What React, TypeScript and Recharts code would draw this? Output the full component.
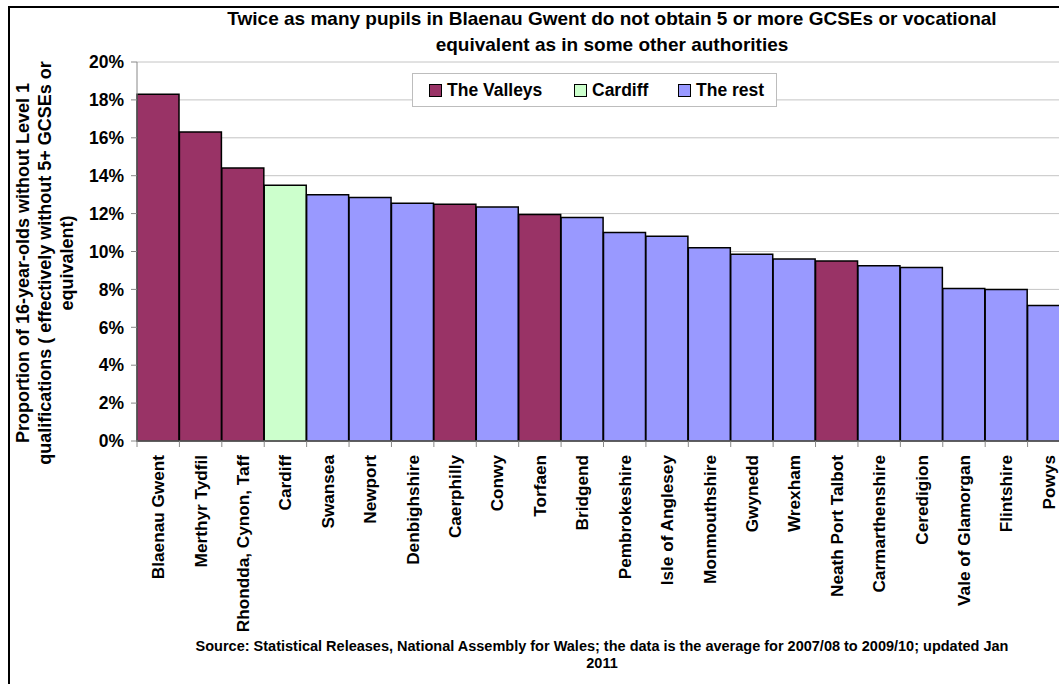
import { Bar, BarChart, CartesianGrid, Cell, XAxis, YAxis } from "recharts";

// Welsh local authorities, average 2007/08 to 2009/10
const authorities = [
    "Blaenau Gwent",
    "Merthyr Tydfil",
    "Rhondda, Cynon, Taff",
    "Cardiff",
    "Swansea",
    "Newport",
    "Denbighshire",
    "Caerphilly",
    "Conwy",
    "Torfaen",
    "Bridgend",
    "Pembrokeshire",
    "Isle of Anglesey",
    "Monmouthshire",
    "Gwynedd",
    "Wrexham",
    "Neath Port Talbot",
    "Carmarthenshire",
    "Ceredigion",
    "Vale of Glamorgan",
    "Flintshire",
    "Powys",
];

// % of 16-year-olds without Level 1 qualifications
const withoutLevel1 = [
    18.3, 16.3, 14.4, 13.5, 13.0, 12.85, 12.55, 12.5, 12.35, 11.95, 11.8, 11.0, 10.8, 10.2, 9.85, 9.6, 9.5,
    9.25, 9.15, 8.05, 8.0, 7.15,
];

const groups = [
    "valleys", "valleys", "valleys", "cardiff", "rest", "rest", "rest", "valleys", "rest", "valleys", "rest",
    "rest", "rest", "rest", "rest", "rest", "valleys", "rest", "rest", "rest", "rest", "rest",
];

const yTicks = [0, 2, 4, 6, 8, 10, 12, 14, 16, 18, 20];

const legendItems = [
    { key: "valleys", label: "The Valleys", left: 16 },
    { key: "cardiff", label: "Cardiff", left: 161 },
    { key: "rest", label: "The rest", left: 265 },
];

const COLORS: Record<string, string> = {
    valleys: "#993366",
    cardiff: "#CCFFCC",
    rest: "#9999FF",
};

const FONT = '"Liberation Sans", Arial, Helvetica, sans-serif';

const CHART_WIDTH = 1070;
const CHART_HEIGHT = 684;
const Y_AXIS_WIDTH = 137;
const BAND = (CHART_WIDTH - Y_AXIS_WIDTH) / authorities.length;

const data = authorities.map((name, i) => ({
    name,
    value: withoutLevel1[i],
    group: groups[i],
}));

const CategoryTick = (props: any) => {
    const { x, y, payload, index } = props;
    return (
        <g>
            <line x1={x - BAND / 2} x2={x - BAND / 2} y1={y} y2={y + 6} stroke="#888" />
            {index === authorities.length - 1 && (
                <line x1={x + BAND / 2} x2={x + BAND / 2} y1={y} y2={y + 6} stroke="#888" />
            )}
            <text
                transform={`translate(${x},${y + 14}) rotate(-90)`}
                textAnchor="end"
                dominantBaseline="central"
                fontFamily={FONT}
                fontWeight="bold"
                fontSize={17.2}
                fill="#000"
            >
                {payload.value}
            </text>
        </g>
    );
};

const App = () => {
    return (
        <div
            style={{
                position: "fixed",
                left: 0,
                top: 0,
                width: 1059,
                height: 684,
                overflow: "hidden",
                background: "#fff",
                fontFamily: FONT,
            }}
        >
            <div
                style={{
                    position: "absolute",
                    left: 8,
                    top: 6,
                    width: 1200,
                    height: 800,
                    borderLeft: "2px solid #000",
                    borderTop: "2px solid #000",
                }}
            />
            <div
                style={{
                    position: "absolute",
                    left: 612,
                    top: 6,
                    transform: "translateX(-50%)",
                    whiteSpace: "nowrap",
                    textAlign: "center",
                    fontSize: 19,
                    fontWeight: "bold",
                    lineHeight: "26px",
                    color: "#000",
                }}
            >
                Twice as many pupils in Blaenau Gwent do not obtain 5 or more GCSEs or vocational
                <br />
                equivalent as in some other authorities
            </div>
            <div
                style={{
                    position: "absolute",
                    left: 45,
                    top: 263,
                    transform: "translate(-50%, -50%) rotate(-90deg)",
                    whiteSpace: "nowrap",
                    textAlign: "center",
                    fontSize: 18,
                    fontWeight: "bold",
                    lineHeight: "22px",
                    color: "#000",
                }}
            >
                Proportion of 16-year-olds without Level 1
                <br />
                qualifications ( effectively without 5+ GCSEs or
                <br />
                equivalent)
            </div>
            <div style={{ position: "absolute", left: 0, top: 0 }}>
                <BarChart
                    width={CHART_WIDTH}
                    height={CHART_HEIGHT}
                    data={data}
                    margin={{ top: 62, right: 0, left: 0, bottom: 0 }}
                    barCategoryGap={0}
                    barGap={0}
                >
                    <CartesianGrid vertical={false} stroke="#c4c4c4" />
                    <XAxis
                        dataKey="name"
                        height={243}
                        interval={0}
                        tickLine={false}
                        tickSize={0}
                        tickMargin={0}
                        stroke="#888"
                        tick={<CategoryTick />}
                    />
                    <YAxis
                        width={Y_AXIS_WIDTH}
                        domain={[0, 20]}
                        ticks={yTicks}
                        interval={0}
                        stroke="#888"
                        tickSize={6}
                        tickMargin={7}
                        tickFormatter={(v: number) => `${v}%`}
                        tick={{ fill: "#000", fontSize: 17.5, fontWeight: "bold", fontFamily: FONT }}
                    />
                    <Bar dataKey="value" stroke="#000" strokeWidth={1.5} isAnimationActive={false}>
                        {data.map((d) => (
                            <Cell key={d.name} fill={COLORS[d.group]} />
                        ))}
                    </Bar>
                </BarChart>
            </div>
            <div
                style={{
                    position: "absolute",
                    left: 412,
                    top: 73,
                    width: 365,
                    height: 34,
                    boxSizing: "border-box",
                    border: "1px solid #bdbdbd",
                    background: "#fff",
                    fontSize: 17.5,
                    fontWeight: "bold",
                    color: "#000",
                }}
            >
                {legendItems.map((item) => (
                    <div
                        key={item.key}
                        style={{
                            position: "absolute",
                            left: item.left,
                            top: 0,
                            height: 32,
                            display: "flex",
                            alignItems: "center",
                            whiteSpace: "nowrap",
                        }}
                    >
                        <span
                            style={{
                                display: "inline-block",
                                width: 11,
                                height: 11,
                                background: COLORS[item.key],
                                border: "1px solid #000",
                                marginRight: 5,
                            }}
                        />
                        {item.label}
                    </div>
                ))}
            </div>
            <div
                style={{
                    position: "absolute",
                    left: 602,
                    top: 638,
                    transform: "translateX(-50%)",
                    whiteSpace: "nowrap",
                    textAlign: "center",
                    fontSize: 14.5,
                    fontWeight: "bold",
                    lineHeight: "17px",
                    color: "#000",
                }}
            >
                Source: Statistical Releases, National Assembly for Wales; the data is the average for 2007/08 to
                2009/10; updated Jan
                <br />
                2011
            </div>
        </div>
    );
};

export default App;
